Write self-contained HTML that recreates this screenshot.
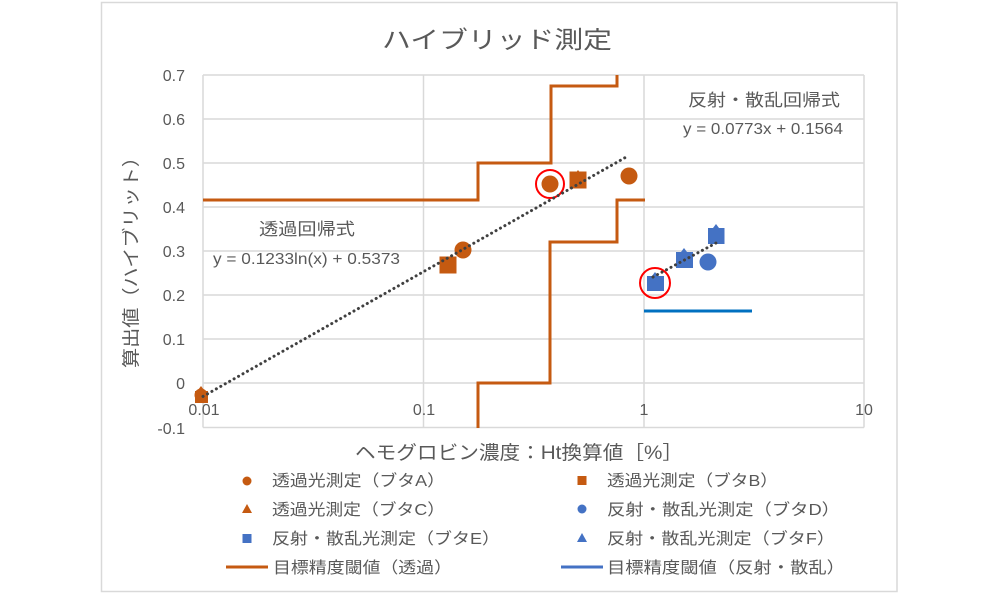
<!DOCTYPE html>
<html>
<head>
<meta charset="utf-8">
<style>
  html, body { margin: 0; padding: 0; background: #ffffff; }
  body { width: 1000px; height: 594px; overflow: hidden; }
  svg { display: block; }
  text { font-family: "Liberation Sans", "Noto Sans CJK JP", sans-serif; fill: #595959; }
</style>
</head>
<body>
<svg width="1000" height="594" viewBox="0 0 1000 594" xmlns="http://www.w3.org/2000/svg">
  <rect x="0" y="0" width="1000" height="594" fill="#ffffff"/>
  <!-- chart border -->
  <rect x="101.5" y="2.5" width="795.5" height="589" fill="none" stroke="#d9d9d9" stroke-width="1.5"/>

  <!-- title -->
  <text x="497" y="48" font-size="24" text-anchor="middle" textLength="230" lengthAdjust="spacingAndGlyphs">ハイブリッド測定</text>

  <!-- gridlines -->
  <g stroke="#d9d9d9" stroke-width="1.5" fill="none">
    <line x1="203" y1="75" x2="864" y2="75"/>
    <line x1="203" y1="119" x2="864" y2="119"/>
    <line x1="203" y1="163" x2="864" y2="163"/>
    <line x1="203" y1="207" x2="864" y2="207"/>
    <line x1="203" y1="251" x2="864" y2="251"/>
    <line x1="203" y1="295" x2="864" y2="295"/>
    <line x1="203" y1="339" x2="864" y2="339"/>
    <line x1="203" y1="383" x2="864" y2="383"/>
    <line x1="203" y1="427.5" x2="864" y2="427.5"/>
    <line x1="203" y1="75" x2="203" y2="427.5"/>
    <line x1="423.5" y1="75" x2="423.5" y2="427.5"/>
    <line x1="644" y1="75" x2="644" y2="427.5"/>
    <line x1="864" y1="75" x2="864" y2="427.5"/>
  </g>

  <!-- y tick labels -->
  <g font-size="16" text-anchor="end">
    <text x="185" y="81">0.7</text>
    <text x="185" y="125">0.6</text>
    <text x="185" y="169">0.5</text>
    <text x="185" y="213">0.4</text>
    <text x="185" y="257">0.3</text>
    <text x="185" y="301">0.2</text>
    <text x="185" y="345">0.1</text>
    <text x="185" y="389">0</text>
    <text x="185" y="434">-0.1</text>
  </g>

  <!-- threshold (orange, transmission) -->
  <g stroke="#C55A11" stroke-width="3" fill="none" stroke-linejoin="miter">
    <polyline points="203,200 478,200 478,163 551,163 551,86 617,86 617,75"/>
    <polyline points="478,428 478,383 550,383 550,242 617,242 617,200 645,200"/>
  </g>
  <!-- threshold (blue, reflection) -->
  <line x1="644" y1="311" x2="752" y2="311" stroke="#0070C0" stroke-width="3"/>

  <!-- data markers: orange -->
  <g fill="#C55A11">
    <!-- 0.01 cluster -->
    <rect x="195" y="391" width="13" height="12"/>
    <circle cx="201" cy="395" r="6.5"/>
    <polygon points="201,386 195,394 207,394"/>
    <!-- ~0.13 square -->
    <rect x="439.5" y="256.5" width="17" height="17"/>
    <!-- circle -->
    <circle cx="463" cy="250" r="8.5"/>
    <!-- circle at 0.37 -->
    <circle cx="550" cy="184" r="8.5"/>
    <!-- triangle + square at 0.5 -->
    <polygon points="578,170 572,178 584,178"/>
    <rect x="569.5" y="171.5" width="17" height="17"/>
    <!-- circle at 0.85 -->
    <circle cx="629" cy="176" r="8.5"/>
  </g>

  <!-- data markers: blue -->
  <g fill="#4472C4">
    <polygon points="655,272 649,280 661,280"/>
    <rect x="647" y="276" width="17" height="15"/>
    <polygon points="684,248 678,256 690,256"/>
    <rect x="676" y="252" width="17" height="16"/>
    <circle cx="708" cy="262" r="8.5"/>
    <polygon points="716,224 710,232 722,232"/>
    <rect x="708" y="228" width="16.5" height="16"/>
  </g>

  <!-- red highlight rings -->
  <circle cx="550" cy="184" r="14" fill="none" stroke="#FF0000" stroke-width="2"/>
  <circle cx="655" cy="283" r="15" fill="none" stroke="#FF0000" stroke-width="2"/>

  <!-- trendlines -->
  <g stroke="#404040" stroke-width="3" stroke-linecap="round" stroke-dasharray="0.1 5" fill="none">
    <line x1="203" y1="396.4" x2="628" y2="156"/>
    <line x1="653" y1="277" x2="716" y2="243"/>
  </g>

  <!-- x tick labels (drawn over markers) -->
  <g font-size="16" text-anchor="middle">
    <text x="204" y="415">0.01</text>
    <text x="424" y="415">0.1</text>
    <text x="644" y="415">1</text>
    <text x="864" y="415">10</text>
  </g>

  <!-- regression annotations -->
  <text x="259" y="235" font-size="17" textLength="96" lengthAdjust="spacingAndGlyphs">透過回帰式</text>
  <text x="213" y="264" font-size="16" textLength="187" lengthAdjust="spacingAndGlyphs">y = 0.1233ln(x) + 0.5373</text>
  <text x="688" y="106" font-size="17" textLength="152" lengthAdjust="spacingAndGlyphs">反射・散乱回帰式</text>
  <text x="683" y="134" font-size="16" textLength="160" lengthAdjust="spacingAndGlyphs">y = 0.0773x + 0.1564</text>

  <!-- axis titles -->
  <text x="0" y="0" font-size="18" text-anchor="middle" textLength="221" lengthAdjust="spacingAndGlyphs" transform="translate(137.5,257.5) rotate(-90)">算出値（ハイブリット）</text>
  <text x="355" y="459" font-size="19" textLength="328" lengthAdjust="spacingAndGlyphs">ヘモグロビン濃度：Ht換算値［%］</text>

  <!-- legend -->
  <g font-size="16">
    <circle cx="247" cy="481" r="4.5" fill="#C55A11"/>
    <text x="272" y="486" textLength="173" lengthAdjust="spacingAndGlyphs">透過光測定（ブタA）</text>

    <rect x="577.5" y="476" width="9" height="9" fill="#C55A11"/>
    <text x="607" y="486" textLength="171" lengthAdjust="spacingAndGlyphs">透過光測定（ブタB）</text>

    <polygon points="247,504 242,513 252,513" fill="#C55A11"/>
    <text x="272" y="515" textLength="173" lengthAdjust="spacingAndGlyphs">透過光測定（ブタC）</text>

    <circle cx="582" cy="509" r="4.5" fill="#4472C4"/>
    <text x="607" y="515" textLength="233" lengthAdjust="spacingAndGlyphs">反射・散乱光測定（ブタD）</text>

    <rect x="242.5" y="534" width="9" height="9" fill="#4472C4"/>
    <text x="272" y="544" textLength="228" lengthAdjust="spacingAndGlyphs">反射・散乱光測定（ブタE）</text>

    <polygon points="582,533 577,542 587,542" fill="#4472C4"/>
    <text x="607" y="544" textLength="228" lengthAdjust="spacingAndGlyphs">反射・散乱光測定（ブタF）</text>

    <line x1="226" y1="567" x2="268" y2="567" stroke="#C55A11" stroke-width="3"/>
    <text x="273" y="573" textLength="179" lengthAdjust="spacingAndGlyphs">目標精度閾値（透過）</text>

    <line x1="561" y1="567" x2="603" y2="567" stroke="#4472C4" stroke-width="3"/>
    <text x="607" y="573" textLength="238" lengthAdjust="spacingAndGlyphs">目標精度閾値（反射・散乱）</text>
  </g>
</svg>
</body>
</html>
